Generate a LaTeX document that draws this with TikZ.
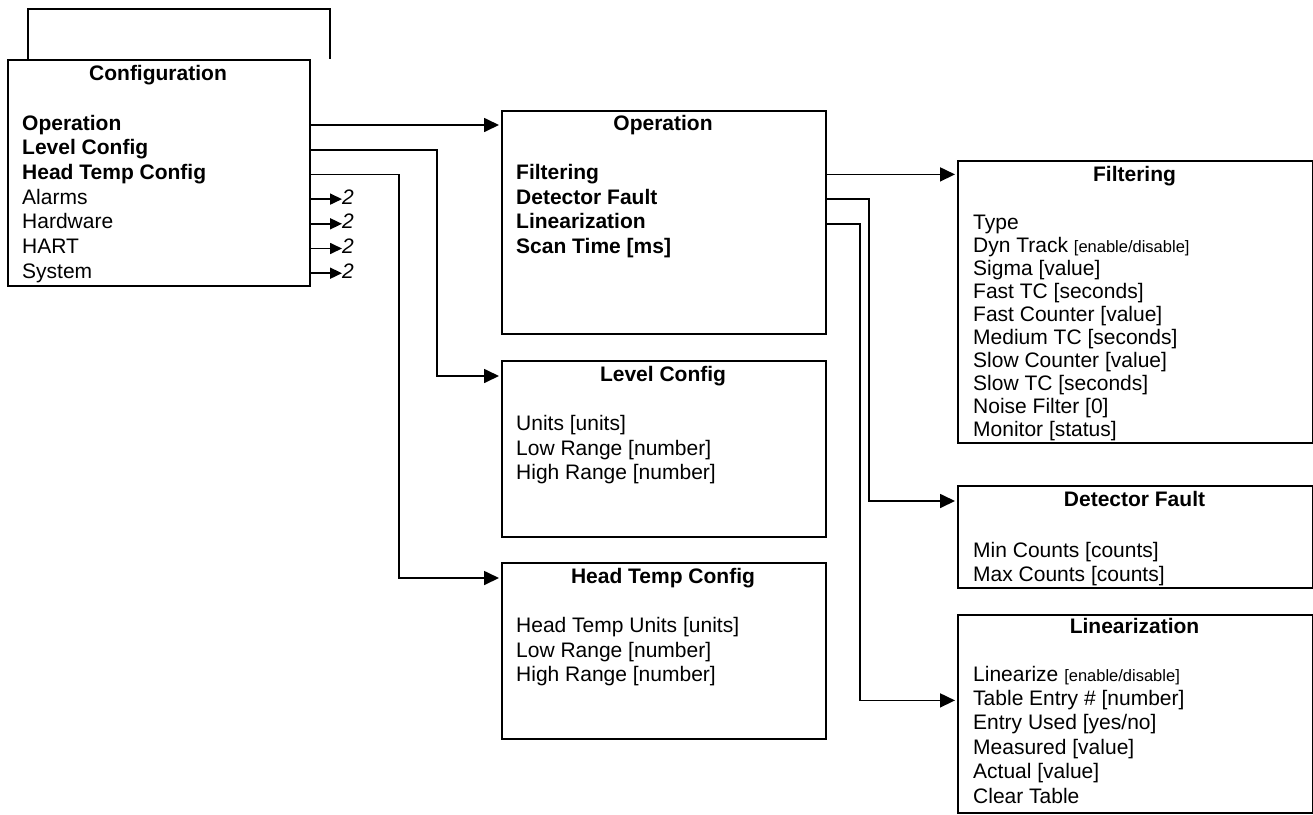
\documentclass[tikz,border=0pt]{standalone}
\usepackage{fontspec}
\setmainfont{Liberation Sans}
\usetikzlibrary{arrows.meta, positioning}

\newcommand{\menufont}{\fontsize{21}{24.5}\selectfont}
\newcommand{\hint}[1]{{\fontsize{16.5}{20}\selectfont #1}}

\tikzset{
  menuline/.style={line width=2pt},
  menubox/.style={draw, menuline, rectangle, anchor=north west, inner sep=0pt},
  boxtitle/.style={font=\menufont\bfseries, anchor=base, inner sep=0pt, text height=14pt, text depth=4pt},
  entry/.style={font=\menufont, anchor=base west, inner sep=0pt, text height=14pt, text depth=4pt},
  boldentry/.style={entry, font=\menufont\bfseries},
  link/.style={line width=1.7pt, shorten >=2pt, -{Triangle[length=15pt, width=14pt]}},
  jump/.style={line width=1.7pt, -{Triangle[length=12pt, width=11pt]}},
}

\begin{document}
\begin{tikzpicture}[x=1pt, y=-1pt]
\useasboundingbox (0,0) rectangle (1313,814);

% boxes
\draw[menuline] (28,59) |- (330,9) -- (330,59);
\node[menubox, minimum width=302pt, minimum height=226pt] (cfg) at (7,59) {};
\node[menubox, minimum width=324pt, minimum height=223pt] (op) at (501,110) {};
\node[menubox, minimum width=324pt, minimum height=176pt] (lvl) at (501,360) {};
\node[menubox, minimum width=324pt, minimum height=176pt] (head) at (501,562) {};
\node[menubox, minimum width=355pt, minimum height=282pt] (filt) at (957,160) {};
\node[menubox, minimum width=355pt, minimum height=102pt] (det) at (957,485) {};
\node[menubox, minimum width=355pt, minimum height=198pt] (lin) at (957,614) {};

% Configuration
\node[boxtitle] (cfgtitle) at (158,80) {Configuration};
\node[boldentry] (cfgop) at (22,130) {Operation};
\node[boldentry] (cfglvl) at (22,154.7) {Level Config};
\node[boldentry] (cfghead) at (22,179.4) {Head Temp Config};
\foreach \name/\txt/\y in {cfgalarm/Alarms/204.1, cfghw/Hardware/228.8, cfghart/HART/253.5, cfgsys/System/278.2}
{
  \node[entry] (\name) at (22,\y) {\txt};
  \node[entry, font=\menufont\itshape] (\name-r) at (342,\y) {2};
  \draw[jump] (cfg.east |- \name) -- (\name-r.west);
}

% Operation
\node[boxtitle] (optitle) at (663,130) {Operation};
\foreach \name/\txt [count=\i from 2] in {opfilt/Filtering, opdet/Detector Fault, oplin/Linearization, opscan/Scan Time [ms]}
  \node[boldentry] (\name) at (516,130+24.7*\i) {\txt};

% Level Config
\node[boxtitle] (lvltitle) at (663,381) {Level Config};
\foreach \txt [count=\i from 0] in {Units [units], Low Range [number], High Range [number]}
  \node[entry] (lvl\i) at (516,430.4+24.7*\i) {\txt};

% Head Temp Config
\node[boxtitle] (headtitle) at (663,583) {Head Temp Config};
\foreach \txt [count=\i from 0] in {Head Temp Units [units], Low Range [number], High Range [number]}
  \node[entry] (head\i) at (516,632.4+24.7*\i) {\txt};

% Filtering
\node[boxtitle] (filttitle) at (1134.5,181) {Filtering};
\foreach \txt [count=\i from 0] in {Type, {Dyn Track \hint{[enable/disable]}}, Sigma [value], Fast TC [seconds],
    Fast Counter [value], Medium TC [seconds], Slow Counter [value], Slow TC [seconds], Noise Filter [0], Monitor [status]}
  \node[entry] (filt\i) at (973,229+23.1*\i) {\txt};

% Detector Fault
\node[boxtitle] (dettitle) at (1134.5,506) {Detector Fault};
\node[entry] (det0) at (973,557) {Min Counts [counts]};
\node[entry] (det1) at (973,581) {Max Counts [counts]};

% Linearization
\node[boxtitle] (lintitle) at (1134.5,633) {Linearization};
\foreach \txt [count=\i from 0] in {{Linearize \hint{[enable/disable]}}, Table Entry \# [number], {Entry Used [yes/no]},
    Measured [value], Actual [value], Clear Table}
  \node[entry] (lin\i) at (973,681+24.4*\i) {\txt};

% connectors
\coordinate (lvlbend) at (437,0);
\coordinate (headbend) at (399,0);
\coordinate (detbend) at (869,0);
\coordinate (linbend) at (860,0);
\draw[link] (cfg.east |- cfgop) -- (op.west |- cfgop);
\draw[link] (cfg.east |- cfglvl) -| (lvlbend |- lvltitle) -- (lvl.west |- lvltitle);
\draw[link] (cfg.east |- cfghead) -| (headbend |- headtitle) -- (head.west |- headtitle);
\draw[link] (op.east |- opfilt) -- (filt.west |- opfilt);
\draw[link] (op.east |- opdet) -| (detbend |- dettitle) -- (det.west |- dettitle);
\draw[link] (op.east |- oplin) -| (linbend |- lin1) -- (lin.west |- lin1);
\end{tikzpicture}
\end{document}
